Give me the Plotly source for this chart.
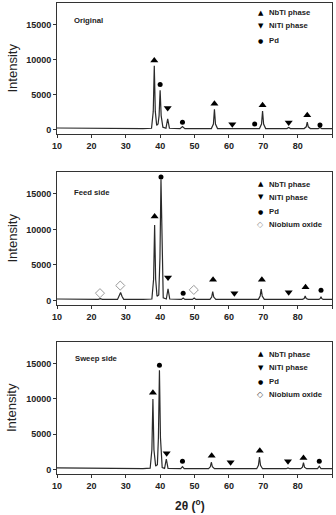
import plotly.graph_objects as go

# ---------------- data ----------------
panel_names = ["Original", "Feed side", "Sweep side"]

# XRD curves (2theta, intensity)
orig_x = [10, 15, 20, 25, 30, 35, 37.5, 38.0, 38.3, 38.6, 39.0, 39.4, 39.7, 40.0, 40.3, 40.8,
          41.7, 42.2, 42.7, 45.8, 46.5, 47.2, 54.9, 55.5, 55.8, 56.1, 56.7, 60.5, 61.0, 61.5,
          68.9, 69.5, 69.8, 70.1, 70.7, 76.9, 77.4, 77.9, 81.9, 82.5, 82.8, 83.1, 83.7,
          86.0, 86.5, 87.0, 90]
orig_y = [230, 200, 180, 160, 150, 150, 200, 2600, 9100, 2600, 600, 800, 2000, 5600, 2000, 350,
          200, 1550, 200, 150, 450, 150, 150, 800, 2900, 800, 150, 150, 250, 150,
          150, 800, 2650, 800, 150, 150, 300, 150, 150, 400, 1080, 400, 150,
          150, 300, 150, 150]

feed_x = [10, 15, 20, 22.0, 22.6, 23.2, 27.6, 28.1, 28.5, 28.9, 29.4, 35, 37.6, 38.1, 38.4, 38.7,
          39.1, 39.6, 39.95, 40.25, 40.55, 40.9, 41.8, 42.3, 42.8, 46.2, 46.7, 47.2, 49.4, 49.9,
          50.4, 54.5, 55.0, 55.3, 55.6, 56.2, 61.2, 61.6, 62.0, 68.6, 69.1, 69.4, 69.7, 70.3,
          76.9, 77.4, 77.9, 81.4, 81.9, 82.2, 82.5, 83.1, 86.2, 86.6, 86.8, 87.0, 87.4, 90]
feed_y = [220, 190, 170, 170, 260, 170, 170, 600, 1130, 600, 170, 170, 220, 3000, 10600, 3000,
          600, 800, 6000, 17000, 6000, 400, 220, 1650, 220, 170, 350, 170, 170, 350,
          170, 170, 500, 1270, 500, 170, 170, 220, 170, 170, 650, 1600, 650, 170,
          170, 250, 170, 170, 300, 660, 300, 170, 170, 300, 560, 300, 170, 170]

sweep_x = [10, 15, 20, 25, 30, 35, 37.1, 37.6, 37.9, 38.2, 38.7, 39.2, 39.5, 39.8, 40.1, 40.6,
           41.3, 41.8, 42.3, 46.0, 46.5, 47.0, 54.1, 54.6, 54.9, 55.2, 55.8, 60.0, 60.5, 61.0,
           68.1, 68.6, 68.9, 69.2, 69.8, 76.7, 77.2, 77.7, 80.9, 81.4, 81.7, 82.0, 82.6,
           85.8, 86.3, 86.8, 90]
sweep_y = [240, 200, 170, 150, 130, 130, 200, 2800, 9970, 2800, 500, 700, 4500, 14050, 4500, 300,
           180, 1500, 180, 130, 420, 130, 130, 400, 1040, 400, 130, 130, 200, 130,
           130, 600, 1790, 600, 130, 130, 250, 130, 130, 350, 990, 350, 130,
           130, 480, 130, 130]

# Phase markers (2theta, marker height)
orig_nbti_x = [38.3, 55.8, 69.8, 82.8]
orig_nbti_y = [9870, 3700, 3460, 2040]
orig_niti_x = [42.2, 61.0, 77.4]
orig_niti_y = [3080, 750, 1000]
orig_pd_x = [40.0, 46.5, 67.5, 86.5]
orig_pd_y = [6450, 1040, 800, 660]

feed_nbti_x = [38.4, 55.4, 69.6, 82.3]
feed_nbti_y = [11810, 2910, 2910, 1880]
feed_niti_x = [42.3, 61.6, 77.4]
feed_niti_y = [3240, 1040, 1180]
feed_pd_x = [40.25, 46.7, 86.8]
feed_pd_y = [17350, 1040, 1460]
feed_ox_x = [22.5, 28.4, 49.8]
feed_ox_y = [1040, 2110, 1500]

sweep_nbti_x = [37.9, 55.0, 69.0, 81.7]
sweep_nbti_y = [10860, 1970, 2680, 1650]
sweep_niti_x = [41.9, 60.5, 77.2]
sweep_niti_y = [2310, 1040, 1180]
sweep_pd_x = [39.8, 46.5, 86.3]
sweep_pd_y = [14760, 1180, 1180]

legend_labels = ["NbTi phase", "NiTi phase", "Pd", "Niobium oxide"]
x_ticks = [10, 20, 30, 40, 50, 60, 70, 80, 90]
y_ticks = [0, 5000, 10000, 15000]
y_tick_text = ["0", "5000", "10000", "15000"]

# ---------------- figure ----------------
FONT = "Liberation Sans, Arial, sans-serif"
fig = go.Figure()

curves = [(orig_x, orig_y), (feed_x, feed_y), (sweep_x, sweep_y)]
markers = [
    [(orig_nbti_x, orig_nbti_y, "triangle-up"), (orig_niti_x, orig_niti_y, "triangle-down"),
     (orig_pd_x, orig_pd_y, "circle")],
    [(feed_nbti_x, feed_nbti_y, "triangle-up"), (feed_niti_x, feed_niti_y, "triangle-down"),
     (feed_pd_x, feed_pd_y, "circle"), (feed_ox_x, feed_ox_y, "diamond-open")],
    [(sweep_nbti_x, sweep_nbti_y, "triangle-up"), (sweep_niti_x, sweep_niti_y, "triangle-down"),
     (sweep_pd_x, sweep_pd_y, "circle")],
]

for i, (cx, cy) in enumerate(curves):
    ax = "" if i == 0 else str(i + 1)
    fig.add_trace(go.Scatter(x=cx, y=cy, mode="lines", line=dict(color="#2a2a2a", width=1.2),
                             xaxis="x" + ax, yaxis="y" + ax, showlegend=False, hoverinfo="skip"))
    for mx, my, sym in markers[i]:
        if sym == "diamond-open":
            mk = dict(symbol=sym, size=7, color="#9a9a9a", line=dict(width=1, color="#9a9a9a"))
        elif sym == "circle":
            mk = dict(symbol=sym, size=5, color="black")
        else:
            mk = dict(symbol=sym, size=7, color="black")
        fig.add_trace(go.Scatter(x=mx, y=my, mode="markers", marker=mk,
                                 xaxis="x" + ax, yaxis="y" + ax, showlegend=False))

domains = [[0.7219, 1.0], [0.3588, 0.6412], [0.0, 0.2803]]
H = 471.0
W = 275.0

def py(ypx):
    return (474.0 - ypx) / H

def px(xpx):
    return (xpx - 57.0) / W

layout = dict(width=336, height=515, autosize=False,
              margin=dict(l=57, r=4, t=3, b=41, pad=0),
              paper_bgcolor="white", plot_bgcolor="white", showlegend=False)

axis_common = dict(showline=True, linecolor="#333333", linewidth=1, mirror=True,
                   ticks="outside", ticklen=3, tickwidth=1, tickcolor="#333333",
                   showgrid=False, zeroline=False,
                   tickfont=dict(family=FONT, size=9, color="#222222", weight="bold"))

for i in range(3):
    ax = "" if i == 0 else str(i + 1)
    layout["xaxis" + ax] = dict(axis_common, domain=[0, 1], range=[10, 90], anchor="y" + ax,
                                tickmode="array", tickvals=x_ticks,
                                ticktext=[str(v) for v in x_ticks])
    layout["yaxis" + ax] = dict(axis_common, domain=domains[i], range=[-620, 18050],
                                anchor="x" + ax, tickmode="array", tickvals=y_ticks,
                                ticktext=y_tick_text)

annotations = []
# panel labels
label_pos = [(72, 21), (71.7, 192.7), (73.3, 358.3)]
for name, (lx, ly) in zip(panel_names, label_pos):
    annotations.append(dict(xref="paper", yref="paper", x=px(lx), y=py(ly), xanchor="left",
                            yanchor="middle", text=name, showarrow=False,
                            font=dict(family=FONT, size=7.7, color="#222222", weight="bold")))

# y titles
for d in domains:
    annotations.append(dict(xref="paper", yref="paper", x=px(12), y=(d[0] + d[1]) / 2,
                            xanchor="center", yanchor="middle", text="Intensity", textangle=-90,
                            showarrow=False, font=dict(family=FONT, size=13, color="#222222")))

# x title
annotations.append(dict(xref="paper", yref="paper", x=px(190), y=py(505), xanchor="center",
                        yanchor="middle", text="2θ (<sup>o</sup>)", showarrow=False,
                        font=dict(family=FONT, size=12, color="#222222", weight="bold")))

# legends
symbols = ["▲", "▼", "●", "◇"]
sym_sizes = [7, 7, 6, 8]
legend_rows = [
    [12.7, 26.0, 40.7],
    [184.0, 197.3, 211.7, 224.3],
    [354.3, 367.7, 381.7, 394.0],
]
diamond_colors = [None, "#9a9a9a", "#555555"]
for pi, rows in enumerate(legend_rows):
    for k, ry in enumerate(rows):
        scol = "black"
        if k == 3:
            scol = diamond_colors[pi]
        annotations.append(dict(xref="paper", yref="paper", x=px(260.5), y=py(ry),
                                xanchor="center", yanchor="middle", text=symbols[k],
                                showarrow=False,
                                font=dict(family="DejaVu Sans", size=sym_sizes[k], color=scol)))
        annotations.append(dict(xref="paper", yref="paper", x=px(266.5), y=py(ry),
                                xanchor="left", yanchor="middle", text=legend_labels[k],
                                showarrow=False,
                                font=dict(family=FONT, size=7.7, color="#222222", weight="bold")))

layout["annotations"] = annotations
fig.update_layout(**layout)
fig.write_html("out.html")
